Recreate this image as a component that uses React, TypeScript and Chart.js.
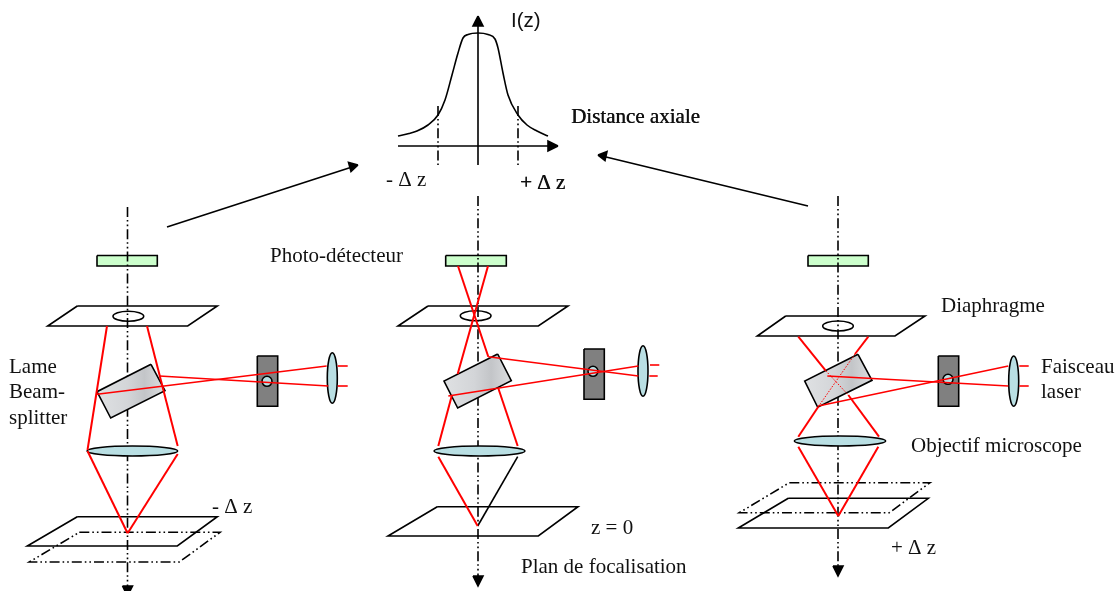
import React, { useEffect, useRef } from "react";
import { Chart, registerables } from "chart.js";

Chart.register(...registerables);

type P = [number, number];

const BLACK = "#000000";
const RED = "#ff0000";
const DASH_DOT = [10, 3, 1.6, 3, 1.6, 3];
const SERIF = '"Liberation Serif"';
const SANS = '"Liberation Sans"';

// I(z) inset
const intensityCurve: P[] = [[398, 136], [409, 133.5], [417, 131], [428, 125], [438, 115], [445, 100], [452, 75], [458, 53], [463, 38], [468, 34.5], [478, 33], [488, 34.5], [495, 39], [498, 48], [503, 73], [508, 95], [518, 115], [527, 125], [537, 131], [548, 136]];
const insetVertical: P[] = [[478, 24], [478, 165]];
const insetHorizontal: P[] = [[398, 146], [550, 146]];
const insetTickLeft: P[] = [[438, 106], [438, 165]];
const insetTickRight: P[] = [[518, 106], [518, 165]];
const insetHeadUp: P[] = [[478, 16], [483, 26], [473, 26], [478, 16]];
const insetHeadRight: P[] = [[558, 146], [548, 141], [548, 151], [558, 146]];

// Long arrows towards the inset
const arrowLeft: P[] = [[167, 227], [352, 167]];
const arrowLeftHead: P[] = [[358, 165], [348.5, 162.5], [351, 171.5], [358, 165]];
const arrowRight: P[] = [[808, 206], [604, 156.5]];
const arrowRightHead: P[] = [[598, 155], [607, 151.5], [605, 160.5], [598, 155]];

// Optical axes
const axisA: P[] = [[127.5, 207], [127.5, 586]];
const axisB: P[] = [[478, 196], [478, 576]];
const axisC: P[] = [[838, 196], [838, 566]];
const axisHeadA: P[] = [[122.5, 586], [132.5, 586], [127.5, 596], [122.5, 586]];
const axisHeadB: P[] = [[473, 576], [483, 576], [478, 586], [473, 576]];
const axisHeadC: P[] = [[833, 566], [843, 566], [838, 576], [833, 566]];

// Photo-detectors
const detectorA: P[] = [[97, 255.5], [157.3, 255.5], [157.3, 266], [97, 266], [97, 255.5]];
const detectorB: P[] = [[445.7, 255.5], [506.3, 255.5], [506.3, 266], [445.7, 266], [445.7, 255.5]];
const detectorC: P[] = [[808, 255.5], [868.3, 255.5], [868.3, 266], [808, 266], [808, 255.5]];

// Diaphragm planes
const diaphragmA: P[] = [[77.3, 306], [217.3, 306], [187.7, 326], [47.7, 326], [77.3, 306]];
const diaphragmB: P[] = [[428, 306], [568, 306], [538.3, 326], [398, 326], [428, 306]];
const diaphragmC: P[] = [[785.7, 316], [925, 316], [895, 336], [757.3, 336], [785.7, 316]];
const pinholeA: P[] = [[113, 311.3], [143.7, 321.3]];
const pinholeB: P[] = [[460.3, 310.7], [491, 320.7]];
const pinholeC: P[] = [[822.7, 321], [853.3, 331]];

// Beam splitters
const splitterA: P[] = [[151, 364.3], [165, 390.7], [110.7, 418], [97, 391.7], [151, 364.3]];
const splitterB: P[] = [[497.7, 354], [511.3, 380.7], [457.7, 408], [444, 381], [497.7, 354]];
const splitterC: P[] = [[858, 354.3], [872, 380.3], [817.7, 407.3], [804.7, 381], [858, 354.3]];

// Pinhole blocks, holes, collimating lenses
const blockA: P[] = [[257.3, 356], [277.7, 356], [277.7, 406.3], [257.3, 406.3], [257.3, 356]];
const blockB: P[] = [[584, 349], [604.3, 349], [604.3, 399.3], [584, 399.3], [584, 349]];
const blockC: P[] = [[938.3, 356], [958.7, 356], [958.7, 406.3], [938.3, 406.3], [938.3, 356]];
const holeA: P[] = [[262, 376.3], [272, 386.3]];
const holeB: P[] = [[588, 366.3], [598, 376.3]];
const holeC: P[] = [[943, 374.3], [953, 384.3]];
const laserLensA: P[] = [[327.3, 352.7], [337.3, 403.3]];
const laserLensB: P[] = [[638, 345.7], [648, 396.3]];
const laserLensC: P[] = [[1008.7, 356], [1018.7, 406.3]];

// Objectives
const objectiveA: P[] = [[87, 446], [177.7, 456]];
const objectiveB: P[] = [[434, 446], [525, 456]];
const objectiveC: P[] = [[794.3, 436], [885.7, 446]];

// Sample planes
const sampleA: P[] = [[77.3, 516.7], [217.3, 516.7], [177.3, 546], [27.3, 546], [77.3, 516.7]];
const sampleDashedA: P[] = [[79.3, 532.3], [220, 532.3], [179.3, 562], [29.3, 562], [79.3, 532.3]];
const sampleB: P[] = [[437.3, 506.7], [578, 506.7], [538.3, 536], [388, 536], [437.3, 506.7]];
const sampleC: P[] = [[788.3, 498.3], [928.3, 498.3], [888.3, 528], [738.3, 528], [788.3, 498.3]];
const sampleDashedC: P[] = [[789.3, 482.7], [930, 482.7], [889.3, 512.7], [739.3, 512.7], [789.3, 482.7]];

// Red rays, left system
const redA: P[][] = [
  [[107, 326], [87.5, 450]],
  [[147, 326], [177.7, 446]],
  [[87.5, 451], [127.6, 533.3]],
  [[177.7, 454], [127.6, 533.3]],
];
const laserA: P[][] = [
  [[97, 394.3], [326.7, 366]],
  [[159.3, 376], [328.3, 386]],
  [[337.7, 366], [347.7, 366]],
  [[337.7, 386], [347.7, 386]],
];
// Red rays, centre system
const redB: P[][] = [
  [[458, 266], [488.3, 356.7]],
  [[488, 266], [457.7, 374]],
  [[451.7, 396], [438.3, 446]],
  [[498.3, 388.3], [517.7, 446]],
  [[438.3, 456.7], [477.7, 526]],
];
const laserB: P[][] = [
  [[488.3, 356.7], [638.3, 376]],
  [[448.3, 396], [638.3, 366]],
  [[650, 365], [659.3, 365]],
  [[649.3, 376], [657.7, 376]],
];
const blackRayB: P[] = [[517.7, 456.7], [477.7, 526]];
// Red rays, right system
const redC: P[][] = [
  [[798.3, 336.7], [825.7, 370.7]],
  [[848.3, 395], [879, 436.7]],
  [[868.3, 336.7], [855, 354]],
  [[818.3, 406.7], [798.3, 436.7]],
  [[798.3, 446.7], [838.3, 516]],
  [[878.3, 446.7], [838.3, 516]],
];
const laserC: P[][] = [
  [[827.3, 376], [1008.3, 386]],
  [[818.3, 406], [1008.3, 366]],
  [[1019.3, 366], [1028.7, 366]],
  [[1019.3, 386], [1028.7, 386]],
];
const redDottedC: P[][] = [
  [[825.7, 370.7], [848.3, 395]],
  [[855, 354], [818.3, 406.7]],
];

// Text
const labelTexts = ["I(z)", "Distance axiale", "- Δ z", "+ Δ z", "Photo-détecteur", "Lame", "Beam-", "splitter", "Diaphragme", "Faisceau", "laser", "Objectif microscope", "- Δ z", "z = 0", "Plan de focalisation", "+ Δ z"];
const labelAnchors: P[] = [[511, 27], [571, 122.5], [386, 186], [520, 189], [270, 262], [9, 372.5], [9, 398], [9, 424], [941, 312], [1041, 372.5], [1041, 398], [911, 452], [212, 513], [591, 534], [521, 573], [891, 554]];
const labelSizes = [20.5, 21, 21, 21, 21, 21, 21, 21, 21, 21, 21, 21, 21, 21, 21, 21];
const labelDoubled = [false, true, false, true, false, false, false, false, false, false, false, false, false, false, false, false];

const line = (pts: P[], style: any = {}) => ({
  data: pts.map(([x, y]) => ({ x, y })),
  showLine: true,
  pointRadius: 0,
  pointHoverRadius: 0,
  borderColor: BLACK,
  borderWidth: 1.6,
  tension: 0,
  clip: false,
  fill: false,
  ...style,
});
const shape = (pts: P[], color: any, style: any = {}) =>
  line(pts, { fill: "shape", backgroundColor: color, ...style });
const ellipse = (box: P[], color: string) =>
  line(box, { showLine: false, ellipseFill: color });
const red = (pts: P[]) => line(pts, { borderColor: RED, borderWidth: 2 });
const laser = (pts: P[]) => line(pts, { borderColor: RED, borderWidth: 1.6 });

const ellipsePlugin = {
  id: "ellipseMarks",
  afterDatasetDraw(chart: any, args: any) {
    const ds = chart.data.datasets[args.index];
    if (!ds.ellipseFill) return;
    const [a, b] = args.meta.data;
    const ctx = chart.ctx;
    ctx.save();
    ctx.beginPath();
    ctx.ellipse((a.x + b.x) / 2, (a.y + b.y) / 2, Math.abs(b.x - a.x) / 2, Math.abs(b.y - a.y) / 2, 0, 0, Math.PI * 2);
    if (ds.ellipseFill !== "none") {
      ctx.fillStyle = ds.ellipseFill;
      ctx.fill();
    }
    ctx.strokeStyle = BLACK;
    ctx.lineWidth = 1.6;
    ctx.stroke();
    ctx.restore();
  },
};

const labelPlugin = {
  id: "diagramLabels",
  afterDatasetsDraw(chart: any) {
    const { ctx, scales } = chart;
    ctx.save();
    ctx.fillStyle = "#111111";
    ctx.textBaseline = "alphabetic";
    ctx.textAlign = "left";
    labelTexts.forEach((t, i) => {
      ctx.font = `${labelSizes[i]}px ${i === 0 ? SANS : SERIF}`;
      const x = scales.x.getPixelForValue(labelAnchors[i][0]);
      const y = scales.y.getPixelForValue(labelAnchors[i][1]);
      ctx.fillText(t, x, y);
      if (labelDoubled[i]) ctx.fillText(t, x + 0.4, y);
    });
    ctx.restore();
  },
};

export default function App() {
  const ref = useRef<HTMLCanvasElement>(null);
  useEffect(() => {
    const canvas = ref.current!;
    const ctx = canvas.getContext("2d")!;
    const glass = (box: P[]) => {
      const g = ctx.createLinearGradient(box[3][0], box[3][1], box[1][0], box[1][1]);
      g.addColorStop(0, "#dfe1e3");
      g.addColorStop(0.45, "#d3d5d8");
      g.addColorStop(0.7, "#c3c5c8");
      g.addColorStop(1, "#dcdee0");
      return g;
    };
    const datasets: any[] = [
      shape(detectorA, "#ccffcc"),
      shape(detectorB, "#ccffcc"),
      shape(detectorC, "#ccffcc"),
      line(axisA, { borderDash: DASH_DOT }),
      line(axisB, { borderDash: DASH_DOT }),
      line(axisC, { borderDash: DASH_DOT }),
      shape(axisHeadA, BLACK),
      shape(axisHeadB, BLACK),
      shape(axisHeadC, BLACK),
      line(intensityCurve, { cubicInterpolationMode: "monotone" }),
      line(insetVertical),
      line(insetHorizontal),
      line(insetTickLeft, { borderDash: DASH_DOT }),
      line(insetTickRight, { borderDash: DASH_DOT }),
      shape(insetHeadUp, BLACK),
      shape(insetHeadRight, BLACK),
      line(arrowLeft),
      shape(arrowLeftHead, BLACK),
      line(arrowRight),
      shape(arrowRightHead, BLACK),
      line(diaphragmA),
      line(diaphragmB),
      line(diaphragmC),
      ellipse(pinholeA, "none"),
      ellipse(pinholeB, "none"),
      ellipse(pinholeC, "none"),
      line(sampleDashedA, { borderDash: DASH_DOT }),
      line(sampleA),
      line(sampleB),
      line(sampleDashedC, { borderDash: DASH_DOT }),
      line(sampleC),
      shape(splitterA, glass(splitterA)),
      shape(splitterB, glass(splitterB)),
      shape(splitterC, glass(splitterC)),
      shape(blockA, "#808080"),
      shape(blockB, "#808080"),
      shape(blockC, "#808080"),
      ellipse(holeA, "#b9dfe3"),
      ellipse(holeB, "#b9dfe3"),
      ellipse(holeC, "#b9dfe3"),
      ellipse(laserLensA, "#b9dfe3"),
      ellipse(laserLensB, "#b9dfe3"),
      ellipse(laserLensC, "#b9dfe3"),
      ellipse(objectiveA, "#b9dfe3"),
      ellipse(objectiveB, "#b9dfe3"),
      ellipse(objectiveC, "#b9dfe3"),
      line(blackRayB),
      ...redA.map(red),
      ...laserA.map(laser),
      ...redB.map(red),
      ...laserB.map(laser),
      ...redC.map(red),
      ...laserC.map(laser),
      ...redDottedC.map((p) => line(p, { borderColor: RED, borderWidth: 1, borderDash: [1.5, 1.5] })),
    ];
    datasets.forEach((d, i) => (d.order = -i));
    const chart = new Chart(canvas, {
      type: "scatter",
      data: { datasets },
      options: {
        animation: false,
        responsive: false,
        devicePixelRatio: 1,
        layout: { padding: 0 },
        events: [],
        plugins: { legend: { display: false }, tooltip: { enabled: false }, title: { display: false } },
        scales: {
          x: { type: "linear", display: false, min: 0, max: 1118 },
          y: { type: "linear", display: false, min: 0, max: 591, reverse: true },
        },
      },
      plugins: [ellipsePlugin, labelPlugin],
    } as any);
    return () => chart.destroy();
  }, []);
  return (
    <div style={{ position: "fixed", left: 0, top: 0, width: 1118, height: 591, background: "#ffffff", overflow: "hidden" }}>
      <canvas ref={ref} width={1118} height={591} style={{ display: "block", width: 1118, height: 591 }} />
    </div>
  );
}
